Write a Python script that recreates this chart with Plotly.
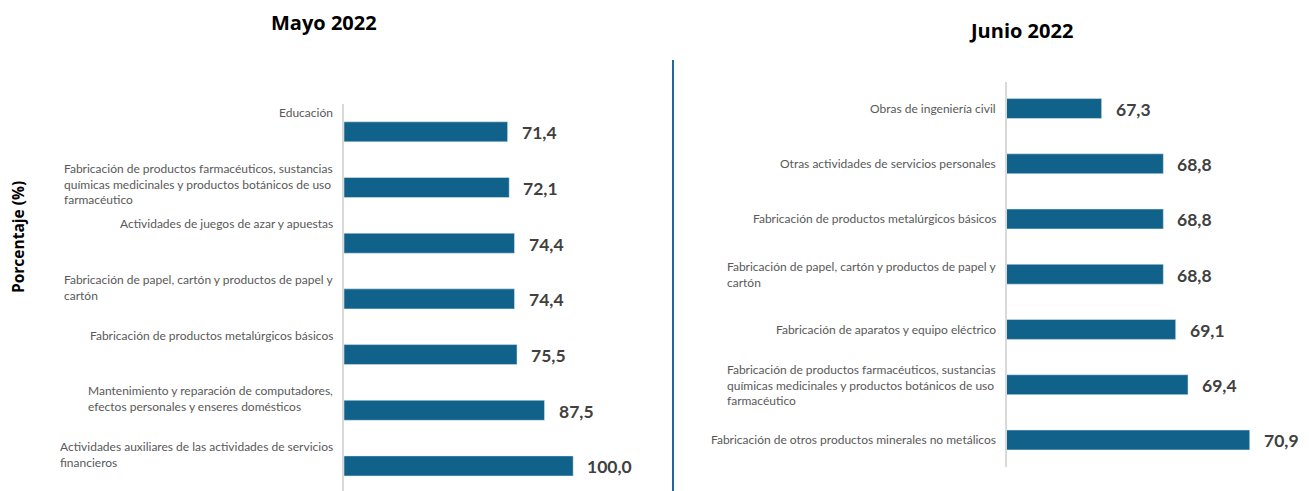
import plotly.graph_objects as go

# The page body adds an 8px margin, so the figure is drawn 8px smaller and all
# reference-pixel positions are shifted by that offset.
OFF = 8
W, H = 1309 - OFF, 491 - OFF

# ---- data ----
mayo_cats = [
    "Educación",
    "Fabricación de productos farmacéuticos, sustancias<br>químicas medicinales y productos botánicos de uso<br>farmacéutico",
    "Actividades de juegos de azar y apuestas",
    "Fabricación de papel, cartón y productos de papel y<br>cartón",
    "Fabricación de productos metalúrgicos básicos",
    "Mantenimiento y reparación de computadores,<br>efectos personales y enseres domésticos",
    "Actividades auxiliares de las actividades de servicios<br>financieros",
]
mayo_vals = [71.4, 72.1, 74.4, 74.4, 75.5, 87.5, 100.0]

junio_cats = [
    "Obras de ingeniería civil",
    "Otras actividades de servicios personales",
    "Fabricación de productos metalúrgicos básicos",
    "Fabricación de papel, cartón y productos de papel y<br>cartón",
    "Fabricación de aparatos y equipo eléctrico",
    "Fabricación de productos farmacéuticos, sustancias<br>químicas medicinales y productos botánicos de uso<br>farmacéutico",
    "Fabricación de otros productos minerales no metálicos",
]
junio_vals = [67.3, 68.8, 68.8, 68.8, 69.1, 69.4, 70.9]

titles = ["Mayo 2022", "Junio 2022"]
y_title = "Porcentaje (%)"

BAR = "#10628A"
LABEL = "#595959"
VALUE = "#404040"


def fmt(v):
    return f"{v:.1f}".replace(".", ",")


def px_x(a, b):
    return [(a - OFF) / W, (b - OFF) / W]


def px_y(top, bottom):
    return [1 - (bottom - OFF) / H, 1 - (top - OFF) / H]


def pxx(a):
    return (a - OFF) / W


def pxy(a):
    return 1 - (a - OFF) / H


fig = go.Figure()
fig.add_trace(go.Bar(x=mayo_vals, y=mayo_cats, orientation="h", marker_color=BAR,
                     xaxis="x", yaxis="y", hoverinfo="x+y", showlegend=False))
fig.add_trace(go.Bar(x=junio_vals, y=junio_cats, orientation="h", marker_color=BAR,
                     xaxis="x2", yaxis="y2", hoverinfo="x+y", showlegend=False))

ann = []
# category labels (left: above bar, right: centered)
for c in mayo_cats:
    ann.append(dict(x=0, y=c, xref="x domain", yref="y", text=c, showarrow=False,
                    xanchor="right", yanchor="top", align="left", xshift=-9, yshift=29,
                    font=dict(family="Lato", size=12, color=LABEL)))
for c in junio_cats:
    ann.append(dict(x=0, y=c, xref="x2 domain", yref="y2", text=c, showarrow=False,
                    xanchor="right", yanchor="middle", align="left", xshift=-9,
                    font=dict(family="Lato", size=12, color=LABEL)))
# value labels
for c, v in zip(mayo_cats, mayo_vals):
    ann.append(dict(x=v, y=c, xref="x", yref="y", text=fmt(v), showarrow=False,
                    xanchor="left", yanchor="middle", xshift=12, yshift=-1,
                    font=dict(family="Lato", size=17.5, color=VALUE, weight="bold")))
for c, v in zip(junio_cats, junio_vals):
    ann.append(dict(x=v, y=c, xref="x2", yref="y2", text=fmt(v), showarrow=False,
                    xanchor="left", yanchor="middle", xshift=12, yshift=-1,
                    font=dict(family="Lato", size=17.5, color=VALUE, weight="bold")))
# titles
ann.append(dict(x=pxx(324), y=pxy(23), xref="paper", yref="paper", text=titles[0],
                showarrow=False, xanchor="center", yanchor="middle",
                font=dict(family="Open Sans", size=20, color="#000000", weight="bold")))
ann.append(dict(x=pxx(1021), y=pxy(30), xref="paper", yref="paper", text=titles[1],
                showarrow=False, xanchor="center", yanchor="middle",
                font=dict(family="Open Sans", size=20, color="#000000", weight="bold")))
ann.append(dict(x=pxx(18), y=pxy(237), xref="paper", yref="paper", text=y_title,
                showarrow=False, textangle=-90, xanchor="center", yanchor="middle",
                font=dict(family="Open Sans", size=15.5, color="#000000", weight="bold")))

axis_hidden = dict(showgrid=False, zeroline=False, showline=False, showticklabels=False,
                   ticks="", fixedrange=True)
yax = dict(showgrid=False, zeroline=False, showticklabels=False, ticks="",
           showline=True, linecolor="#D9D9D9", linewidth=1.5, type="category")

fig.update_layout(
    width=W, height=H,
    margin=dict(l=0, r=0, t=0, b=0),
    paper_bgcolor="white", plot_bgcolor="white",
    bargap=0.64,
    xaxis=dict(axis_hidden, domain=px_x(344, 619), range=[0, 120], anchor="y"),
    yaxis=dict(yax, domain=px_y(104, 491), range=[6.45, -0.5], anchor="x"),
    xaxis2=dict(axis_hidden, domain=px_x(1007, 1295), range=[65, 72], anchor="y2"),
    yaxis2=dict(yax, domain=px_y(82, 467), range=[6.49, -0.48], anchor="x2"),
    annotations=ann,
    shapes=[dict(type="line", xref="paper", yref="paper", x0=pxx(673), x1=pxx(673),
                 y0=0, y1=pxy(60), line=dict(color="#1F6A99", width=2))],
)

fig.write_html("out.html")
